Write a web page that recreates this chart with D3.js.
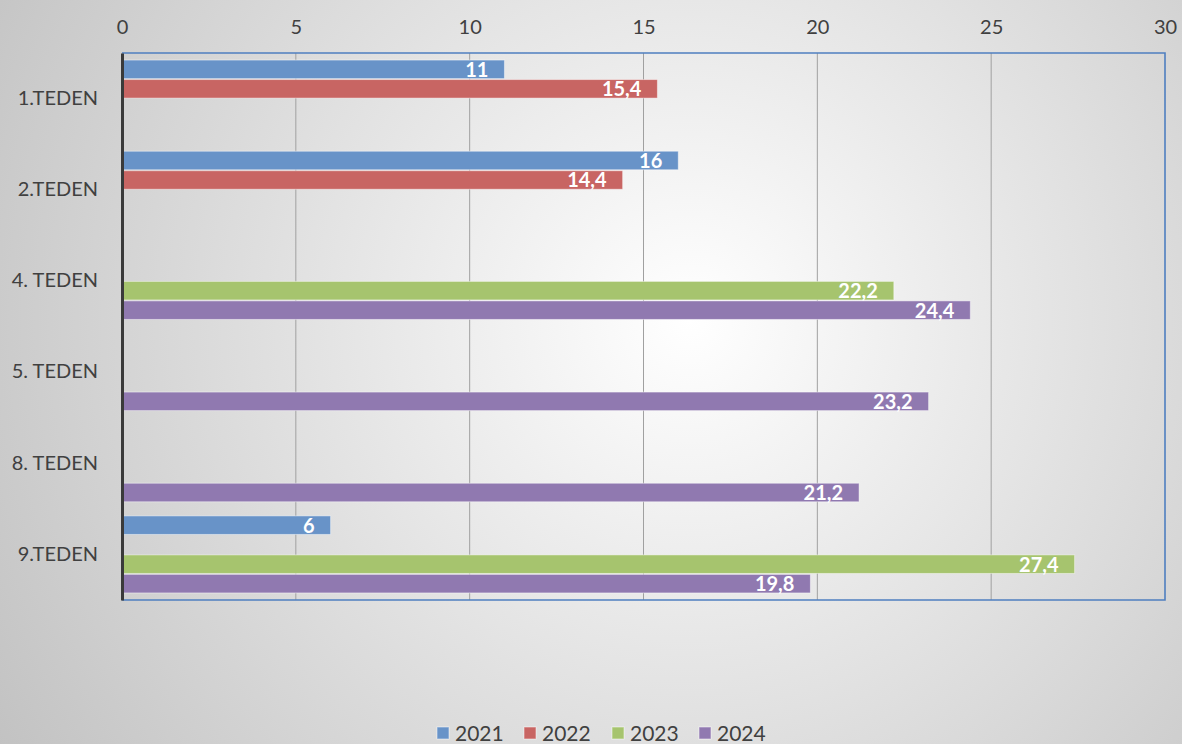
<!DOCTYPE html>
<html>
<head>
<meta charset="utf-8">
<script src="https://cdn.jsdelivr.net/npm/d3@7/dist/d3.min.js"></script>
<style>
html,body{margin:0;padding:0;overflow:hidden;}
svg{display:block;font-family:Lato,"Open Sans",sans-serif;}
</style>
</head>
<body>
<svg id="chart" width="1182" height="744"></svg>
<script>
const categories = ["1.TEDEN", "2.TEDEN", "4. TEDEN", "5. TEDEN", "8. TEDEN", "9.TEDEN"];
const seriesNames = ["2021", "2022", "2023", "2024"];
const values2021 = [11, 16, null, null, null, 6];
const values2022 = [15.4, 14.4, null, null, null, null];
const values2023 = [null, null, 22.2, null, null, 27.4];
const values2024 = [null, null, 24.4, 23.2, 21.2, 19.8];
const xTicks = [0, 5, 10, 15, 20, 25, 30];
const colors = ["#6893c8", "#c86563", "#a6c46e", "#9079b0"];

const seriesValues = [values2021, values2022, values2023, values2024];
const W = 1182, H = 744;
const m = {left: 122, right: 1165, top: 53, bottom: 600};
const svg = d3.select("#chart");

const defs = svg.append("defs");
const grad = defs.append("radialGradient").attr("id", "bg")
  .attr("gradientUnits", "userSpaceOnUse")
  .attr("cx", 690).attr("cy", 320).attr("r", 840);
grad.append("stop").attr("offset", "0").attr("stop-color", "#ffffff");
grad.append("stop").attr("offset", "1").attr("stop-color", "#c0c0c0");
svg.append("rect").attr("width", W).attr("height", H).attr("fill", "url(#bg)");

const x = d3.scaleLinear().domain([0, 30]).range([m.left, m.right]);
const y = d3.scaleBand().domain(categories).range([m.top, m.bottom])
  .paddingInner(0.155).paddingOuter(0.0775);
const ySub = d3.scaleBand().domain(seriesNames).range([0, y.bandwidth()]).paddingInner(0.05);

// gridlines
svg.append("g").selectAll("line").data(xTicks.filter(t => t > 0 && t < 30)).join("line")
  .attr("x1", d => x(d)).attr("x2", d => x(d))
  .attr("y1", m.top).attr("y2", m.bottom)
  .attr("stroke", "#a0a0a0").attr("stroke-width", 1);

// top axis labels
const xAxis = d3.axisTop(x).tickValues(xTicks).tickSize(0).tickPadding(0);
const gx = svg.append("g").attr("transform", "translate(0,34)").call(xAxis);
gx.select(".domain").remove();
gx.selectAll("text").attr("font-size", 20).attr("fill", "#404040")
  .attr("font-family", "Lato,'Open Sans',sans-serif");

// bars
const flat = [];
seriesNames.forEach((s, si) => {
  categories.forEach((c, ci) => {
    const v = seriesValues[si][ci];
    if (v !== null) flat.push({s, si, c, v});
  });
});
const bars = svg.append("g");
bars.selectAll("rect").data(flat).join("rect")
  .attr("x", x(0))
  .attr("y", d => y(d.c) + ySub(d.s))
  .attr("width", d => x(d.v) - x(0))
  .attr("height", ySub.bandwidth())
  .attr("fill", d => colors[d.si])
  .attr("stroke", "rgba(255,255,255,0.45)").attr("stroke-width", 1);

const fmt = v => String(v).replace(".", ",");
bars.selectAll("text").data(flat).join("text")
  .attr("x", d => x(d.v) - 16)
  .attr("y", d => y(d.c) + ySub(d.s) + ySub.bandwidth() / 2)
  .attr("dy", "0.37em")
  .attr("text-anchor", "end")
  .attr("font-size", 20).attr("font-weight", "bold").attr("fill", "#ffffff")
  .text(d => fmt(d.v));

// plot border
svg.append("path")
  .attr("d", `M${m.left},${m.top}H${m.right}V${m.bottom}H${m.left}`)
  .attr("fill", "none").attr("stroke", "#4f7fc0").attr("stroke-width", 1.6);

// left axis
const yAxis = d3.axisLeft(y).tickSize(0).tickPadding(24);
const gy = svg.append("g").attr("transform", `translate(${m.left},0)`).call(yAxis);
gy.select(".domain").attr("stroke", "#3a3a3a").attr("stroke-width", 3);
gy.selectAll("text").attr("font-size", 20).attr("fill", "#404040")
  .attr("font-family", "Lato,'Open Sans',sans-serif");

// legend
const legX = [437, 524, 612, 699];
const leg = svg.append("g").selectAll("g").data(seriesNames).join("g")
  .attr("transform", (d, i) => `translate(${legX[i]},733)`);
leg.append("rect").attr("x", 0).attr("y", -6).attr("width", 12).attr("height", 12)
  .attr("fill", (d, i) => colors[i]).attr("stroke", "rgba(255,255,255,0.5)");
leg.append("text").attr("x", 18).attr("dy", "0.36em")
  .attr("font-size", 21).attr("fill", "#404040").text(d => d);
</script>
</body>
</html>
